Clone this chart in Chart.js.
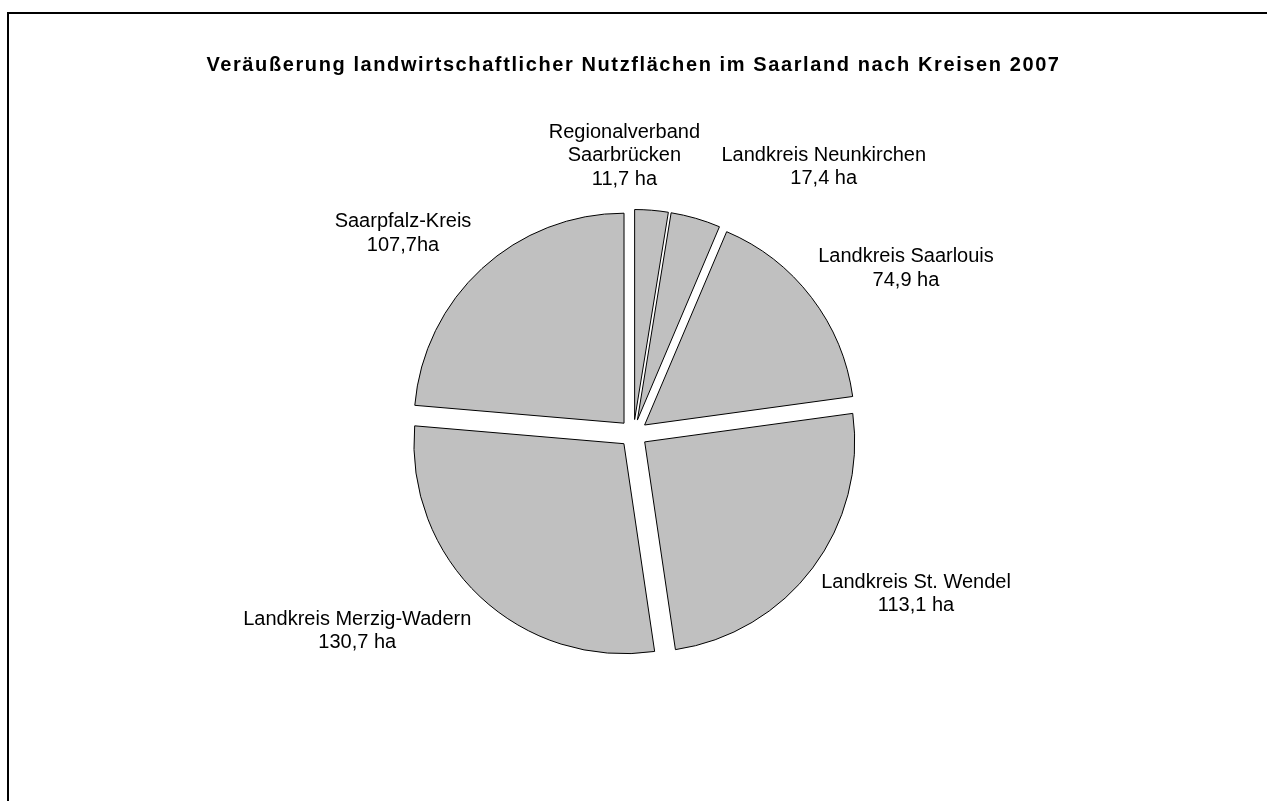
<!DOCTYPE html>
<html lang="de">
<head>
<meta charset="utf-8">
<title>Veräußerung landwirtschaftlicher Nutzflächen 2007</title>
<script src="https://cdn.jsdelivr.net/npm/chart.js@4.4.1/dist/chart.umd.min.js"></script>
<style>
    body { margin: 0; background: #fff; }
    #frame {
        position: absolute; left: 7px; top: 12px;
        width: 1400px; height: 900px;
        border-top: 2px solid #000; border-left: 2px solid #000;
    }
    #wrap { position: absolute; left: 0; top: 0; width: 1267px; height: 801px; }
</style>
</head>
<body>
<div id="frame"></div>
<div id="wrap"><canvas id="pieChart" width="1267" height="801"></canvas></div>
<script>
// Kreise im Uhrzeigersinn, beginnend oben
const kreise = [
    ['Regionalverband', 'Saarbrücken'],
    ['Landkreis Neunkirchen'],
    ['Landkreis Saarlouis'],
    ['Landkreis St. Wendel'],
    ['Landkreis Merzig-Wadern'],
    ['Saarpfalz-Kreis']
];
const flaecheHa = [11.7, 17.4, 74.9, 113.1, 130.7, 107.7];
const einheit = [' ha', ' ha', ' ha', ' ha', ' ha', 'ha'];

// label placement (relative to each slice's middle angle)
const labelAngleShift = [-6.5, 19.4, 6.2, -7.3, 11.2, -6.5];   // degrees
const labelDistance = [1.324, 1.559, 1.517, 1.547, 1.617, 1.453]; // x radius

const EXPLODE = 14;
const FONT = '"Liberation Sans", Arial, sans-serif';

function formatHa(v, i) {
    return v.toFixed(1).replace('.', ',') + einheit[i];
}

// translate every slice outwards along its middle angle
function explodedDraw(ctx) {
    const mid = (this.startAngle + this.endAngle) / 2;
    ctx.save();
    ctx.translate(Math.cos(mid) * EXPLODE, Math.sin(mid) * EXPLODE);
    Chart.ArcElement.prototype.draw.call(this, ctx);
    ctx.restore();
}

const explodePlugin = {
    id: 'explode',
    beforeDraw(chart) {
        // title is drawn with wider tracking, like the original
        chart.ctx.letterSpacing = '1.6px';
    },
    beforeDatasetsDraw(chart) {
        chart.ctx.letterSpacing = '0px';
        chart.getDatasetMeta(0).data.forEach(arc => {
            if (arc.draw !== explodedDraw) arc.draw = explodedDraw;
        });
    }
};

const sliceLabels = {
    id: 'sliceLabels',
    afterDraw(chart) {
        const ctx = chart.ctx;
        const meta = chart.getDatasetMeta(0);
        ctx.save();
        ctx.letterSpacing = '0px';
        ctx.font = '20px ' + FONT;
        ctx.fillStyle = '#000';
        ctx.textAlign = 'center';
        ctx.textBaseline = 'middle';
        meta.data.forEach((arc, i) => {
            const mid = (arc.startAngle + arc.endAngle) / 2 + labelAngleShift[i] * Math.PI / 180;
            const d = arc.outerRadius * labelDistance[i];
            const cx = arc.x + Math.cos(mid) * d;
            const cy = arc.y + Math.sin(mid) * d;
            const lines = kreise[i].concat([formatHa(flaecheHa[i], i)]);
            const lh = 23.5;
            lines.forEach((t, k) => {
                ctx.fillText(t, cx, cy + (k - (lines.length - 1) / 2) * lh);
            });
        });
        ctx.restore();
    }
};

new Chart(document.getElementById('pieChart'), {
    type: 'pie',
    data: {
        labels: kreise.map(k => k.join(' ')),
        datasets: [{
            data: flaecheHa,
            backgroundColor: '#c0c0c0',
            borderColor: '#000000',
            borderWidth: 1,
            borderJoinStyle: 'miter'
        }]
    },
    options: {
        responsive: false,
        animation: false,
        radius: 210,
        layout: { padding: { top: 0, bottom: 24, left: 0, right: 0 } },
        plugins: {
            legend: { display: false },
            tooltip: { enabled: false },
            title: {
                display: true,
                text: 'Veräußerung landwirtschaftlicher Nutzflächen im Saarland nach Kreisen 2007',
                color: '#000',
                font: { family: FONT, size: 20, weight: 'bold' },
                padding: { top: 53, bottom: 13 }
            }
        }
    },
    plugins: [explodePlugin, sliceLabels]
});
</script>
</body>
</html>
